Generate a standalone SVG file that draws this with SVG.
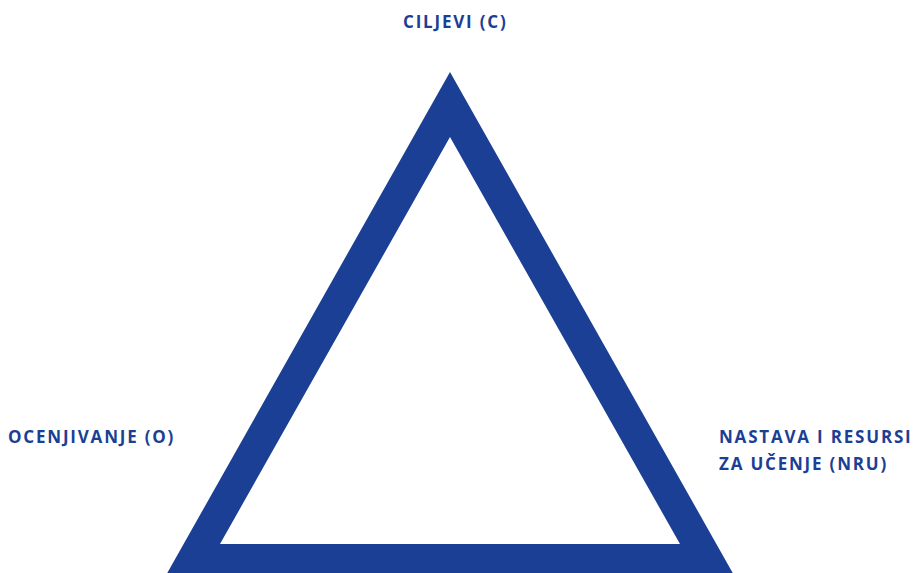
<svg xmlns="http://www.w3.org/2000/svg" width="914" height="573" viewBox="0 0 914 573">
<style>
.lbl{font-family:"Open Sans","DejaVu Sans",sans-serif;font-weight:700;font-size:17px;fill:#1b3f94;letter-spacing:1.8px}
</style>
<rect width="914" height="573" fill="#ffffff"/>
<g id="triangle">
<path d="M450 72 L165 577 L735 577 Z M450 137 L220 544 L680 544 Z" fill="#1b3f94" fill-rule="evenodd"/>
</g>
<g id="connectors"></g>
<g id="node-c"><text class="lbl" x="403" y="28">CILJEVI (C)</text></g>
<g id="node-o"><text class="lbl" x="8" y="443">OCENJIVANJE (O)</text></g>
<g id="node-nru"><text class="lbl" x="719" y="443">NASTAVA I RESURSI</text><text class="lbl" x="719" y="470">ZA UČENJE (NRU)</text></g>
</svg>
